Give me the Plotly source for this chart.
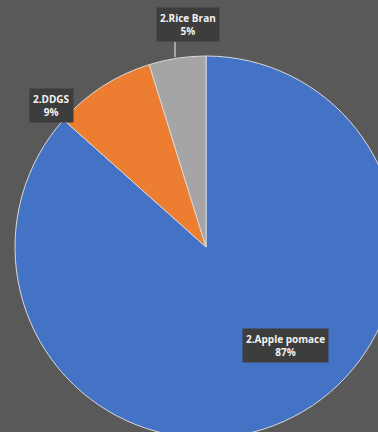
import plotly.graph_objects as go

# ---- data ----
categories = ["2.Apple pomace", "2.DDGS", "2.Rice Bran"]
values = [86.6, 8.6, 4.8]
colors = ["#4472C4", "#ED7D31", "#A5A5A5"]

# ---- layout constants (pixels in the figure) ----
W, H = 400, 440
pie_left, pie_right, pie_top, pie_bottom = 15, 397, 56, 438

def px(x):
    return x / W

def py(y):
    return 1 - y / H

total = sum(values)
pcts = [int(v / total * 100 + 0.5) for v in values]

fig = go.Figure(go.Pie(
    labels=categories,
    values=values,
    sort=False,
    direction="clockwise",
    rotation=0,
    marker=dict(colors=colors, line=dict(color="#d9d9d9", width=1)),
    textinfo="none",
    hoverinfo="label+percent",
    showlegend=False,
    domain=dict(x=[px(pie_left), px(pie_right)], y=[py(pie_bottom), py(pie_top)]),
))

label_pos = [(285, 345), (51, 105), (188, 25)]
annotations = []
for cat, p, (lx, ly) in zip(categories, pcts, label_pos):
    annotations.append(dict(
        x=px(lx), y=py(ly), xref="paper", yref="paper",
        text=f"<b>{cat}</b><br><b>{p}%</b>", showarrow=False,
        font=dict(family="Open Sans", size=10, color="#f2f2f2"),
        bgcolor="#3d3d3d", borderpad=3, align="center",
        xanchor="center", yanchor="middle",
    ))

fig.update_layout(
    width=W, height=H,
    margin=dict(l=0, r=0, t=0, b=0),
    paper_bgcolor="#595959",
    plot_bgcolor="#595959",
    annotations=annotations,
    shapes=[dict(type="line", xref="paper", yref="paper",
                 x0=px(175), x1=px(175), y0=py(42), y1=py(57),
                 line=dict(color="#a6a6a6", width=2))],
)

fig.write_html(
    "out.html",
    config={"displayModeBar": False},
    post_script="document.documentElement.style.overflow='hidden';document.body.style.overflow='hidden';document.body.style.margin='0';",
)
